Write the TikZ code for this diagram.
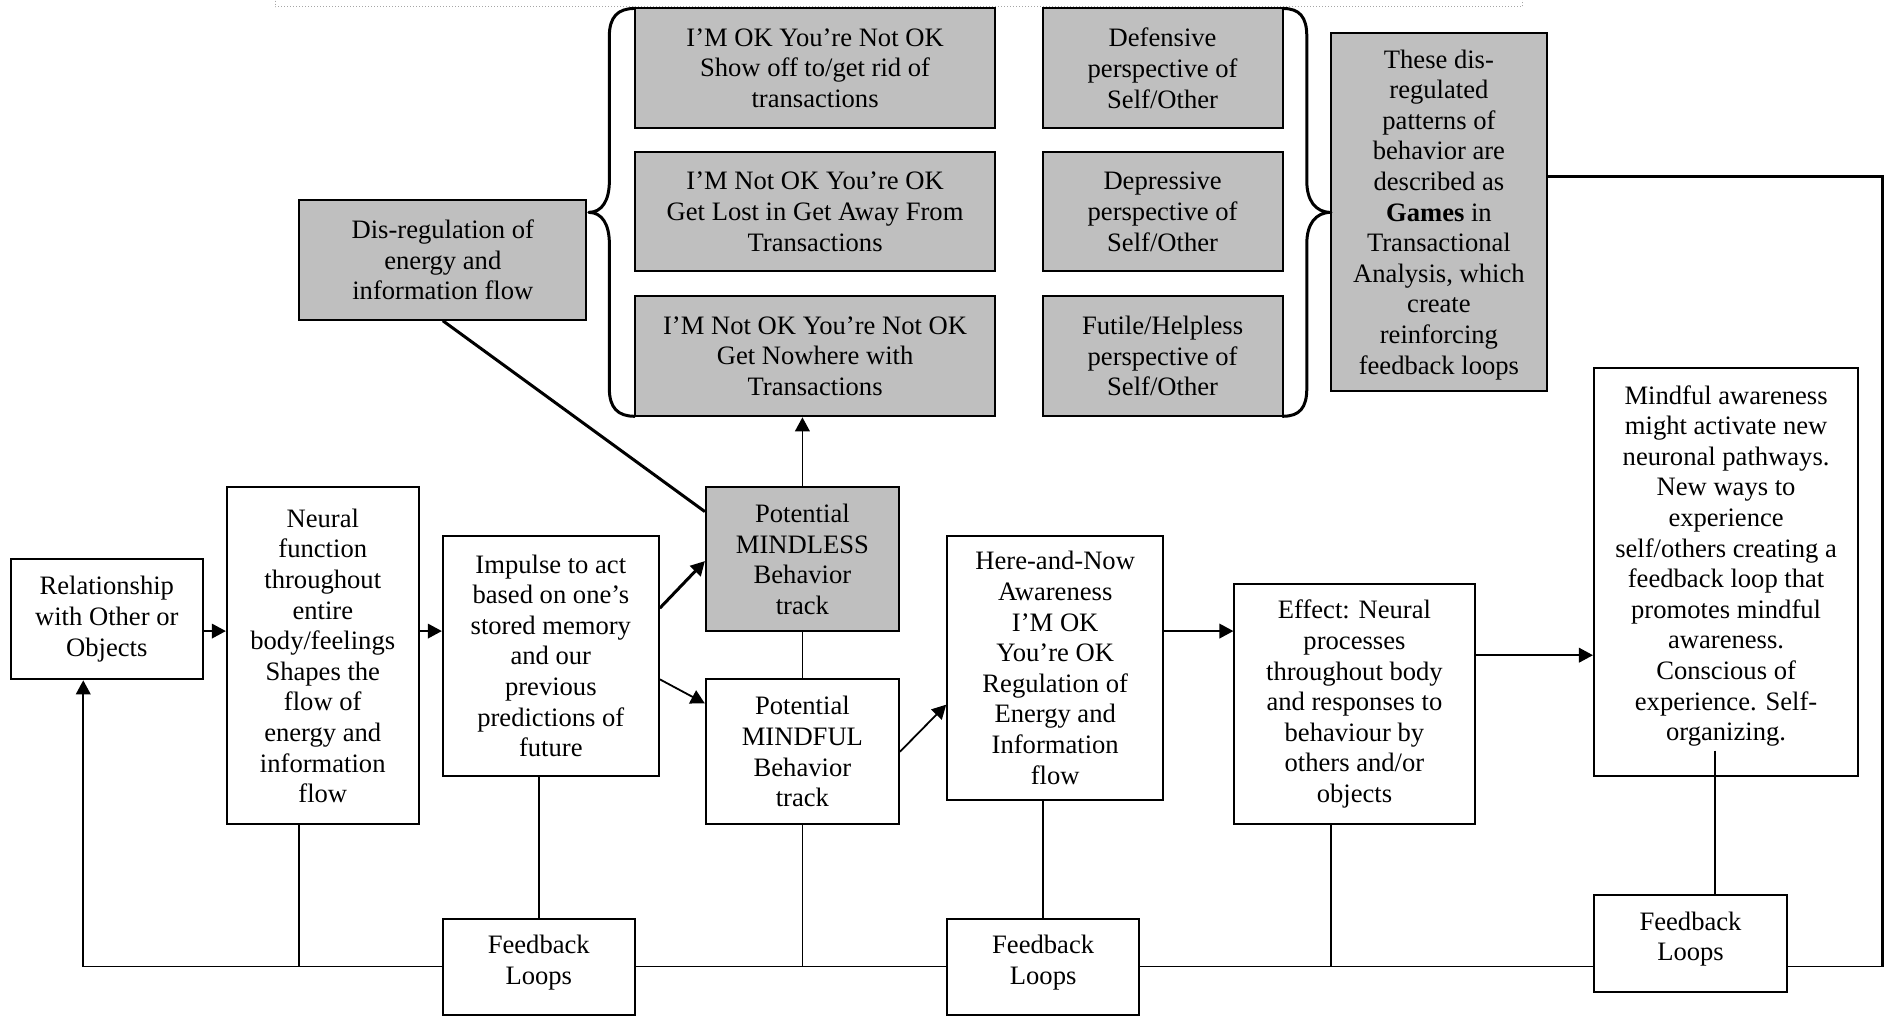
\documentclass[tikz,border=0pt]{standalone}
\usepackage{fontspec}
\setmainfont{Liberation Serif}
\usetikzlibrary{arrows.meta}
\definecolor{boxgray}{RGB}{191,191,191}
\tikzset{
  txt/.style={align=center, inner sep=0pt, font=\fontsize{13.3}{15.3}\selectfont},
  box/.style={txt, draw=black, line width=1pt, fill=white},
  gbox/.style={box, fill=boxgray},
  sz/.style n args={2}{minimum width=#1*0.6033pt, minimum height=#2*0.6033pt},
  conn/.style={line width=0.9pt, draw=black},
  heavy/.style={line width=1.5pt, draw=black},
  arr/.style={-{Triangle[length=7pt,width=7.3pt]}},
  brace/.style={line width=1.5pt, line join=round, line cap=round},
}
\begin{document}
\begin{tikzpicture}[x=0.6033pt, y=-0.6033pt]
\useasboundingbox (0,0) rectangle (1568,842);
% top dotted frame
\draw[gray!70, line width=0.5pt, densely dotted] (228,-2) -- (228,5.5) -- (1262,5.5) -- (1262,-2);

% top gray boxes
\node[gbox, sz={299}{99}] (a1) at (675.5,56.5) {I’M OK You’re Not OK\\Show off to/get rid of\\transactions};
\node[gbox, sz={299}{99}] (a2) at (675.5,175.5) {I’M Not OK You’re OK\\Get Lost in Get Away From\\Transactions};
\node[gbox, sz={299}{100}] (a3) at (675.5,295) {I’M Not OK You’re Not OK\\Get Nowhere with\\Transactions};
\node[gbox, sz={199}{99}] (b1) at (963.5,56.5) {Defensive\\perspective of\\Self/Other};
\node[gbox, sz={199}{99}] (b2) at (963.5,175.5) {Depressive\\perspective of\\Self/Other};
\node[gbox, sz={199}{100}] (b3) at (963.5,295) {Futile/Helpless\\perspective of\\Self/Other};
\node[gbox, sz={179}{297}, label={[txt, yshift=-1.5pt]center:{These dis-\\regulated\\patterns of\\behavior are\\described as\\\textbf{Games} in\\Transactional\\Analysis, which\\create\\reinforcing\\feedback loops}}] (games) at (1192.5,175.5) {};
\node[gbox, sz={238}{99}] (dis) at (367,215.5) {Dis-regulation of\\energy and\\information flow};

% braces
\draw[brace] (526,7) .. controls (512,7) and (505,14) .. (505,30) -- (505,150)
  .. controls (505,166) and (499,176) .. (488,176)
  .. controls (499,176) and (505,186) .. (505,202) -- (505,322)
  .. controls (505,338) and (512,345) .. (526,345);
\draw[brace] (1063,7) .. controls (1077,7) and (1083,14) .. (1083,30) -- (1083,150)
  .. controls (1083,166) and (1090,176) .. (1103,176)
  .. controls (1090,176) and (1083,186) .. (1083,202) -- (1083,322)
  .. controls (1083,338) and (1077,345) .. (1063,345);

% main row
\node[box, sz={159}{100}] (rel) at (88.5,513) {Relationship\\with Other or\\Objects};
\node[box, sz={159}{279}] (neu) at (267.5,543.5) {Neural\\function\\throughout\\entire\\body/feelings\\Shapes the\\flow of\\energy and\\information\\flow};
\node[box, sz={179}{199}] (imp) at (456.5,543.5) {Impulse to act\\based on one’s\\stored memory\\and our\\previous\\predictions of\\future};
\node[gbox, sz={160}{119}] (mless) at (665,463.5) {Potential\\MINDLESS\\Behavior\\track};
\node[box, sz={160}{120}] (mful) at (665,623) {Potential\\MINDFUL\\Behavior\\track};
\node[box, sz={179}{219}] (here) at (874.5,553.5) {Here-and-Now\\Awareness\\I’M OK\\You’re OK\\Regulation of\\Energy and\\Information\\flow};
\node[box, sz={199}{199}] (eff) at (1122.5,583.5) {Effect: Neural\\processes\\throughout body\\and responses to\\behaviour by\\others and/or\\objects};
\node[box, sz={219}{338}, label={[txt, yshift=3pt]center:{Mindful awareness\\might activate new\\neuronal pathways.\\New ways to\\experience\\self/others creating a\\feedback loop that\\promotes mindful\\awareness.\\Conscious of\\experience. Self-\\organizing.}}] (mind) at (1430.5,474) {};

% feedback boxes
\node[box, sz={159}{79}, label={[txt, yshift=2.2pt]center:{Feedback\\Loops}}] (fb1) at (446.5,801.5) {};
\node[box, sz={159}{79}, label={[txt, yshift=2.2pt]center:{Feedback\\Loops}}] (fb2) at (864.5,801.5) {};
\node[box, sz={160}{80}, label={[txt, yshift=2.2pt]center:{Feedback\\Loops}}] (fb3) at (1401,782) {};

% junction coordinates
\coordinate (bl) at (69,801);
\coordinate (br) at (1560,801);
\coordinate (cr) at (1560,146);
\coordinate (jn) at (248,801);
\coordinate (jm) at (665,801);
\coordinate (je) at (1103,801);
\coordinate (mt) at (1421,622);

% forward arrows
\draw[conn, arr] (rel.east |- 0,523) -- (neu.west |- 0,523);
\draw[conn, arr] (neu.east |- 0,523) -- (imp.west |- 0,523);
\draw[heavy, arr] (imp.east |- 0,504) -- (mless.west |- 0,465);
\draw[conn, arr] (imp.east |- 0,563) -- (mful.west |- 0,583);
\draw[conn, arr] (mful.east |- 0,623) -- (here.west |- 0,584);
\draw[conn, arr] (here.east |- 0,523) -- (eff.west |- 0,523);
\draw[conn, arr] (eff.east |- 0,543) -- (mind.west |- 0,543);
\draw[conn, arr] (mless.north) -- (mless.north |- a3.south);
\draw[conn] (mless.south) -- (mful.north);
\draw[heavy] (dis.south) -- (mless.west |- 0,424);

% feedback network
\draw[heavy] (games.east |- cr) -- (cr) -- (br);
\draw[conn] (br) -- (fb3.east |- br);
\draw[conn] (fb3.west |- br) -- (fb2.east |- br);
\draw[conn] (fb2.west |- br) -- (fb1.east |- br);
\draw[conn, arr] (fb1.west |- bl) -- (bl) -- (rel.south -| bl);
\draw[conn] (neu.south -| jn) -- (jn);
\draw[conn] (imp.south -| fb1.north) -- (fb1.north);
\draw[conn] (mful.south) -- (jm);
\draw[conn] (here.south -| fb2.north) -- (fb2.north);
\draw[conn] (eff.south -| je) -- (je);
\draw[conn] (mt) -- (mt |- fb3.north);
\end{tikzpicture}
\end{document}
